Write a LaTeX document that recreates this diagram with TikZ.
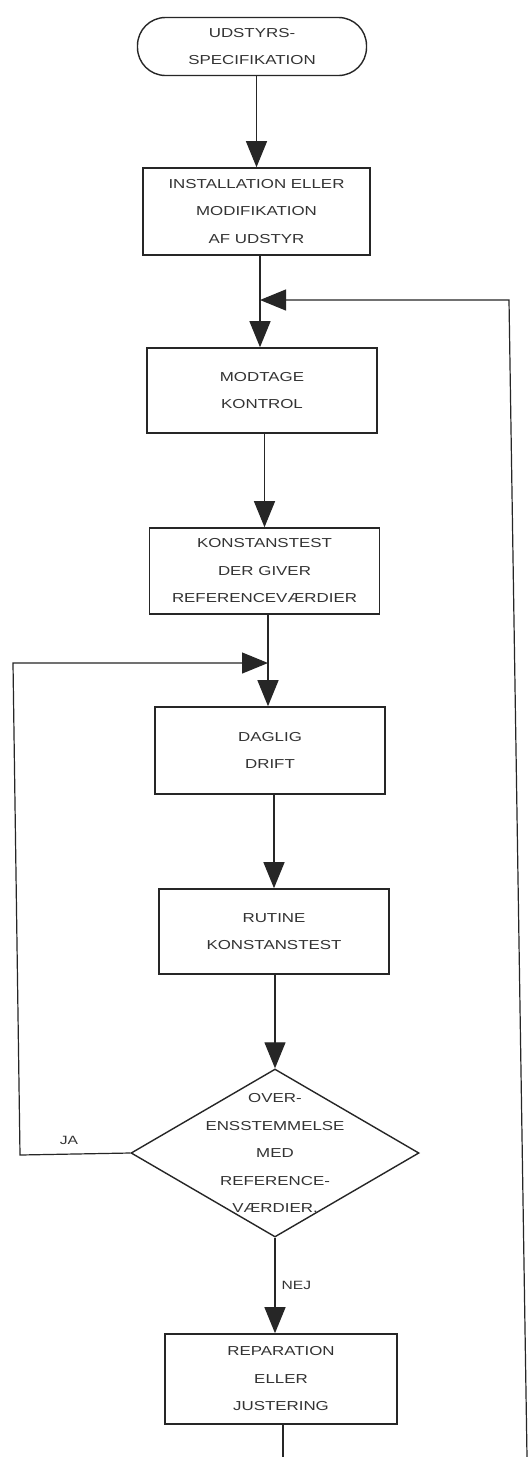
\documentclass[tikz,border=0pt]{standalone}
\usepackage{fontspec}
\setmainfont{Liberation Sans}[FakeStretch=1.3]
\usetikzlibrary{arrows.meta,shapes.geometric}
\begin{document}
\begin{tikzpicture}[x=1pt,y=-1pt,
  txt/.style={align=center, inner sep=0pt, font=\fontsize{13}{27.5}\selectfont, text=black!80},
  box/.style={txt, draw=black!85, line width=1.6pt, rectangle, minimum width=230pt, minimum height=87pt},
  term/.style={box, rounded corners=28pt, minimum width=229pt, minimum height=58pt, line width=1.4pt},
  dec/.style={diamond, draw=black!85, line width=1.4pt, minimum width=288pt, minimum height=168pt, inner sep=0pt},
  conn/.style={draw=black!85, line width=1.2pt},
  flow/.style={conn, -{Triangle[length=26pt,width=21pt]}},
  lbl/.style={txt, font=\fontsize{12}{14}\selectfont}
]
\useasboundingbox[fill=white] (0,0) rectangle (528,1457);

\node[term] (spec) at (252,46.5) {UDSTYRS-\\SPECIFIKATION};
\node[box, minimum width=227pt] (inst) at (256.5,211.5) {INSTALLATION ELLER\\MODIFIKATION\\AF UDSTYR};
\node[box, minimum height=85pt] (modt) at (262,390.5) {MODTAGE\\KONTROL};
\node[box, minimum height=86pt] (konst) at (264.5,571) {KONSTANSTEST\\DER GIVER\\REFERENCEVÆRDIER};
\node[box] (dag) at (270,750.5) {DAGLIG\\DRIFT};
\node[box, minimum height=85pt] (rut) at (274,931.5) {RUTINE\\KONSTANSTEST};
\node[dec] (dia) at (275,1153) {};
\node[txt] (diatext) at (dia.center) {OVER-\\ENSSTEMMELSE\\MED\\REFERENCE-\\VÆRDIER.};
\node[box, minimum width=232pt, minimum height=90pt] (rep) at (281,1379) {REPARATION\\ELLER\\JUSTERING};

\coordinate (j1) at (260,300);
\coordinate (r1) at (509,300);
\coordinate (r2) at (527,1457);
\coordinate (j2) at (268,663);
\coordinate (l1) at (20,1155);
\coordinate (l2) at (13,663);
\coordinate (b1) at (283,1457);

\draw[flow] (spec.south -| inst.north) -- (inst.north);
\draw[conn] (inst.south -| j1) -- (j1);
\draw[flow] (j1) -- (j1 |- modt.north);
\draw[flow] (r2) -- (r1) -- (j1);
\draw[flow] (modt.south -| konst.north) -- (konst.north);
\draw[conn] (konst.south -| j2) -- (j2);
\draw[flow] (j2) -- (j2 |- dag.north);
\draw[flow] (dia.west) -- (l1) -- (l2) -- (j2);
\node[lbl] (ja) at (69,1140) {JA};
\draw[flow] (dag.south -| rut.north) -- (rut.north);
\draw[flow] (rut.south -| dia.north) -- (dia.north);
\draw[flow] (dia.south) -- node[lbl, right=6pt] (nej) {NEJ} (dia.south |- rep.north);
\draw[conn] (rep.south -| b1) -- (b1);
\end{tikzpicture}
\end{document}
